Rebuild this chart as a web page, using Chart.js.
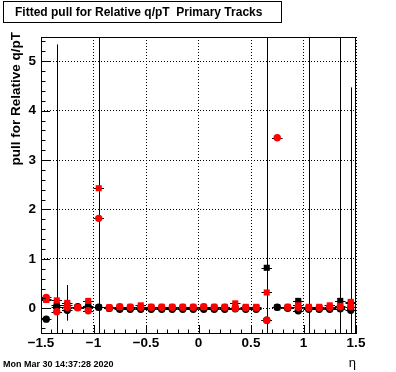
<!DOCTYPE html>
<html>
<head>
<meta charset="utf-8">
<script src="https://cdn.jsdelivr.net/npm/chart.js@4.4.0/dist/chart.umd.min.js"></script>
<style>
  html, body { margin: 0; padding: 0; background: #fff; }
</style>
</head>
<body>
<canvas id="pullChart" width="396" height="372"></canvas>
<script>
// eta bin centres
const etaBins = [-1.45, -1.35, -1.25, -1.15, -1.05, -0.95, -0.85, -0.75, -0.65, -0.55,
                 -0.45, -0.35, -0.25, -0.15, -0.05, 0.05, 0.15, 0.25, 0.35, 0.45,
                 0.55, 0.65, 0.75, 0.85, 0.95, 1.05, 1.15, 1.25, 1.35, 1.45];

// fitted values
const blackCircle = [-0.22, 0.03, -0.04, 0.03, 0.02, 0.02, 0.0, -0.02, -0.02, -0.02,
                     -0.02, -0.02, -0.02, -0.02, -0.02, -0.02, -0.02, -0.02, -0.01, -0.02,
                     -0.02, -0.24, 0.02, 0.0, -0.05, -0.02, -0.02, -0.02, -0.01, -0.04];
const blackSquare = [0.18, 0.07, 0.07, 0.02, 0.05, 0.02, 0.0, 0.01, 0.01, 0.01,
                     0.01, 0.01, 0.01, 0.01, 0.01, 0.01, 0.01, 0.01, 0.01, 0.01,
                     0.01, 0.82, 0.02, 0.01, 0.15, 0.01, 0.01, 0.01, 0.15, 0.10];
const redCircle = [0.22, -0.07, 0.02, 0.01, -0.05, 1.82, 0.01, 0.03, 0.02, 0.02,
                   0.02, 0.02, 0.02, 0.02, 0.02, 0.03, 0.02, 0.02, 0.0, 0.01,
                   0.01, -0.24, 3.45, 0.02, 0.02, 0.01, 0.01, 0.02, 0.03, 0.03];
const redSquare = [0.17, 0.16, 0.11, 0.02, 0.15, 2.43, 0.02, 0.03, 0.03, 0.06,
                   0.03, 0.03, 0.03, 0.03, 0.03, 0.03, 0.03, 0.03, 0.10, 0.03,
                   0.03, 0.32, null, 0.03, 0.06, 0.03, 0.03, 0.06, 0.05, 0.13];

// vertical errors (only the visible ones)
const blackCircleErr = [0, 5.31, 0, 0, 0, 20, 0, 0, 0, 0,
                        0, 0, 0, 0, 0, 0, 0, 0, 0, 0,
                        0, 20, 0, 0, 0, 20, 0, 0, 20, 4.51];
const redSquareErr = [0, 0, 0.36, 0, 0, 0, 0, 0, 0, 0,
                      0, 0, 0, 0, 0, 0, 0, 0, 0, 0,
                      0, 0, 0, 0, 0, 0, 0, 0, 0, 0];

const xTicks = [-1.5, -1, -0.5, 0, 0.5, 1, 1.5];
const xTickLabels = ['\u22121.5', '\u22121', '\u22120.5', '0', '0.5', '1', '1.5'];
const yTicks = [0, 1, 2, 3, 4, 5];
const yTickLabels = ['0', '1', '2', '3', '4', '5'];

const FONT = "'Liberation Sans', Arial, Helvetica, sans-serif";
const binHalf = 0.05;

function points(vals, errs) {
  return etaBins.map((x, i) => ({ x: x, y: vals[i], err: errs ? errs[i] : 0 }))
                .filter(p => p.y !== null);
}

const rootStyle = {
  id: 'rootStyle',
  beforeDatasetsDraw(chart) {
    const { ctx, chartArea: a, scales: { x, y } } = chart;
    ctx.save();
    ctx.beginPath();
    ctx.rect(a.left, a.top, a.right - a.left, a.bottom - a.top);
    ctx.clip();
    ctx.strokeStyle = '#000';
    ctx.lineWidth = 1;
    chart.data.datasets.forEach(ds => {
      ds.data.forEach(p => {
        const px = Math.round(x.getPixelForValue(p.x)) + 0.5;
        const py = Math.round(y.getPixelForValue(p.y)) + 0.5;
        ctx.beginPath();
        ctx.moveTo(x.getPixelForValue(p.x - binHalf), py);
        ctx.lineTo(x.getPixelForValue(p.x + binHalf), py);
        if (p.err) {
          ctx.moveTo(px, y.getPixelForValue(p.y + p.err));
          ctx.lineTo(px, y.getPixelForValue(p.y - p.err));
        }
        ctx.stroke();
      });
    });
    ctx.restore();
  },
  afterDraw(chart) {
    const { ctx, chartArea: a, scales: { x, y } } = chart;
    ctx.save();
    ctx.strokeStyle = '#000';
    ctx.lineWidth = 1;
    // frame
    ctx.strokeRect(a.left + 0.5, a.top + 0.5, a.right - a.left - 1, a.bottom - a.top - 1);

    // inward ticks
    ctx.beginPath();
    for (let k = -2; k <= 27; k++) {
      const v = k * 0.2;
      const py = Math.round(y.getPixelForValue(v)) + 0.5;
      if (py < a.top || py > a.bottom) continue;
      const len = (k % 5 === 0) ? 9 : 4.5;
      ctx.moveTo(a.left, py);
      ctx.lineTo(a.left + len, py);
    }
    for (let k = -15; k <= 15; k++) {
      const v = k * 0.1;
      const px = Math.round(x.getPixelForValue(v)) + 0.5;
      const len = (k % 5 === 0) ? 9 : 4.5;
      ctx.moveTo(px, a.bottom);
      ctx.lineTo(px, a.bottom - len);
    }
    ctx.stroke();

    ctx.fillStyle = '#000';
    // y title
    ctx.save();
    ctx.translate(16, 32);
    ctx.rotate(-Math.PI / 2);
    ctx.font = 'bold 13.5px ' + FONT;
    ctx.textAlign = 'right';
    ctx.textBaseline = 'middle';
    ctx.fillText('pull for Relative q/pT', 0, 0);
    ctx.restore();

    // title box
    ctx.fillStyle = '#fff';
    ctx.fillRect(3, 1, 279, 22);
    ctx.strokeRect(3.5, 1.5, 278, 21);
    ctx.fillStyle = '#000';
    ctx.font = 'bold 12px ' + FONT;
    ctx.textAlign = 'left';
    ctx.textBaseline = 'middle';
    ctx.fillText('Fitted pull for Relative q/pT  Primary Tracks', 15, 12.5);

    // axis label and date stamp
    ctx.font = '13px ' + FONT;
    ctx.textAlign = 'right';
    ctx.fillText('\u03b7', 356, 363);
    ctx.font = 'bold 9px ' + FONT;
    ctx.textAlign = 'left';
    ctx.fillText('Mon Mar 30 14:37:28 2020', 3, 365);
    ctx.restore();
  }
};

const ctx = document.getElementById('pullChart').getContext('2d');
const pullChart = new Chart(ctx, {
  type: 'scatter',
  data: {
    datasets: [
      { label: 'black circle', data: points(blackCircle, blackCircleErr), order: 4,
        pointStyle: 'circle', pointRadius: 3.7, backgroundColor: '#000', borderWidth: 0 },
      { label: 'black square', data: points(blackSquare), order: 3,
        pointStyle: 'rect', pointRadius: 4.3, backgroundColor: '#000', borderWidth: 0 },
      { label: 'red circle', data: points(redCircle), order: 2,
        pointStyle: 'circle', pointRadius: 3.7, backgroundColor: '#ff0000', borderWidth: 0 },
      { label: 'red square', data: points(redSquare, redSquareErr), order: 1,
        pointStyle: 'rect', pointRadius: 4.3, backgroundColor: '#ff0000', borderWidth: 0 }
    ]
  },
  options: {
    responsive: false,
    animation: false,
    events: [],
    layout: { padding: { top: 37, right: 40, left: 0, bottom: 0 } },
    plugins: { legend: { display: false }, tooltip: { enabled: false } },
    scales: {
      x: {
        type: 'linear', min: -1.5, max: 1.5,
        afterFit: s => { s.height = 38; },
        afterBuildTicks: s => { s.ticks = xTicks.map(v => ({ value: v })); },
        grid: { color: '#000', lineWidth: 1, drawTicks: false },
        border: { display: false, dash: [1, 2] },
        ticks: {
          color: '#000', padding: 1, maxRotation: 0, autoSkip: false,
          font: { family: FONT, size: 13.5, weight: 'bold' },
          callback: (v, i) => xTickLabels[i]
        }
      },
      y: {
        type: 'linear', min: -0.52, max: 5.49,
        afterFit: s => { s.width = 41; },
        afterBuildTicks: s => { s.ticks = yTicks.map(v => ({ value: v })); },
        grid: { color: '#000', lineWidth: 1, drawTicks: false },
        border: { display: false, dash: [1, 2] },
        ticks: {
          color: '#000', padding: 5,
          font: { family: FONT, size: 13.5, weight: 'bold' },
          callback: (v, i) => yTickLabels[i]
        }
      }
    }
  },
  plugins: [rootStyle]
});
</script>
</body>
</html>
